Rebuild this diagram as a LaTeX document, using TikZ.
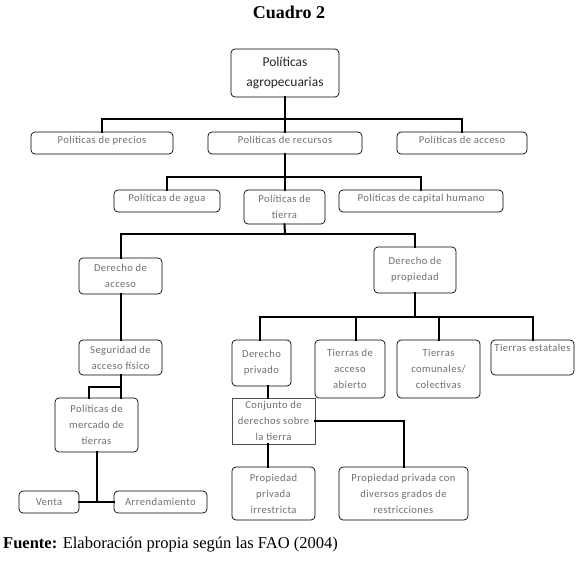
\documentclass[tikz,border=0pt]{standalone}
\usepackage{fontspec}
\setmainfont{Liberation Serif}
\newfontfamily\boxfont[LetterSpace=4]{Carlito}
\newfontfamily\rootfont{Carlito}
\usetikzlibrary{calc}
\definecolor{txtgray}{RGB}{110,110,110}
\tikzset{
  box/.style={draw=black, line width=0.7pt, rounded corners=4pt, inner sep=0pt,
    align=center, font=\boxfont\fontsize{10.6}{16}\selectfont, text=txtgray},
  sqbox/.style={box, rounded corners=0pt, draw=black!70},
  conn/.style={line width=2pt, line cap=rect},
  up/.style={text depth=#1}
}
\begin{document}
\begin{tikzpicture}[x=1pt,y=-1pt]
\useasboundingbox (0,0) rectangle (579,569);
\node[font=\bfseries\fontsize{18}{20}\selectfont] (title) at (289,12) {Cuadro 2};
\node[box, minimum width=108pt, minimum height=48pt, text=black!85,
      font=\rootfont\fontsize{13.5}{20}\selectfont] (root) at (285,73) {Políticas\\agropecuarias};
% level 1
\node[box, minimum width=142pt, minimum height=22pt, up=6pt] (precios) at (102,143) {Políticas de precios};
\node[box, minimum width=154pt, minimum height=22pt, up=6pt] (recursos) at (285,143) {Políticas de recursos};
\node[box, minimum width=130pt, minimum height=22pt, up=6pt] (acceso) at (462,143) {Políticas de acceso};
% level 2
\node[box, minimum width=106pt, minimum height=22pt, up=7pt] (agua) at (167,201) {Políticas de agua};
\node[box, minimum width=81pt, minimum height=34pt] (tierra) at (284.5,207) {Políticas de\\tierra};
\node[box, minimum width=164pt, minimum height=22pt, up=7pt] (capital) at (421,201) {Políticas de capital humano};
% level 3
\node[box, minimum width=83pt, minimum height=36pt] (dacceso) at (120.5,276) {Derecho de\\acceso};
\node[box, minimum width=82pt, minimum height=46pt] (dprop) at (415,270) {Derecho de\\propiedad};
\node[box, minimum width=83pt, minimum height=35pt] (seguridad) at (120.5,357.5) {Seguridad de\\acceso físico};
\node[box, minimum width=83pt, minimum height=54pt] (mercado) at (96.5,425) {Políticas de\\mercado de\\tierras};
\node[box, minimum width=60pt, minimum height=22pt] (venta) at (49,502) {Venta};
\node[box, minimum width=93pt, minimum height=22pt] (arrend) at (160.5,502) {Arrendamiento};
\node[box, minimum width=59pt, minimum height=46pt] (dpriv) at (261.5,363) {Derecho\\privado};
\node[box, minimum width=70pt, minimum height=58pt] (abierto) at (350,369) {Tierras de\\acceso\\abierto};
\node[box, minimum width=83pt, minimum height=58pt] (comunales) at (438.5,369) {Tierras\\comunales/\\colectivas};
\node[box, minimum width=83pt, minimum height=35pt, up=20pt] (estatales) at (532.5,357.5) {Tierras estatales};
\node[sqbox, minimum width=83pt, minimum height=46pt] (conjunto) at (273.5,421) {Conjunto de\\derechos sobre\\la tierra};
\node[box, minimum width=83pt, minimum height=53pt] (irrestricta) at (273.5,493.5) {Propiedad\\privada\\irrestricta};
\node[box, minimum width=129pt, minimum height=53pt] (restricciones) at (403.5,493.5) {Propiedad privada con\\diversos grados de\\restricciones};
\node[anchor=west, font=\fontsize{16.5}{18}\selectfont, inner sep=0pt] (fuente) at (3,545) {\textbf{Fuente:} Elaboración propia según las FAO (2004)};
% connectors
\coordinate (b1) at (285,119);
\draw[conn] (root.south) -- (b1);
\draw[conn] (precios.north) |- (b1) -| (acceso.north);
\draw[conn] (b1) -- (recursos.north);
\coordinate (b2) at (285,177);
\draw[conn] (recursos.south) -- (b2);
\draw[conn] (agua.north) |- (b2) -| (capital.north);
\draw[conn] (b2) -- (b2 |- tierra.north);
\coordinate (b3) at (285,234);
\draw[conn] (tierra.south) -- (b3);
\draw[conn] (dacceso.north) |- (b3) -| (dprop.north);
\draw[conn] (dacceso.south) -- (seguridad.north);
\coordinate (s1) at (120,387);
\coordinate (m1) at (89,398);
\draw[conn] (seguridad.south) -- (seguridad.south |- mercado.north);
\draw[conn] (s1) -| (m1);
\draw[conn] (mercado.south) -- (mercado.south |- venta.east);
\draw[conn] (venta.east) -- (arrend.west);
\coordinate (b4) at (415,317);
\draw[conn] (dprop.south) -- (b4);
\coordinate (pv) at ($(dpriv.north)+(-1.5,0)$);
\coordinate (ab) at ($(abierto.north)+(6,0)$);
\draw[conn] (pv) |- (b4) -| (estatales.north);
\draw[conn] (ab) -- (ab |- b4);
\draw[conn] (comunales.north) -- (comunales.north |- b4);
\coordinate (pr) at ($(dpriv.south)+(6.5,0)$);
\draw[conn] (pr) -- (pr |- conjunto.north);
\draw[conn] (pr |- conjunto.south) -- (pr |- irrestricta.north);
\draw[conn] (conjunto.east) -| (restricciones.north);
\end{tikzpicture}
\end{document}
